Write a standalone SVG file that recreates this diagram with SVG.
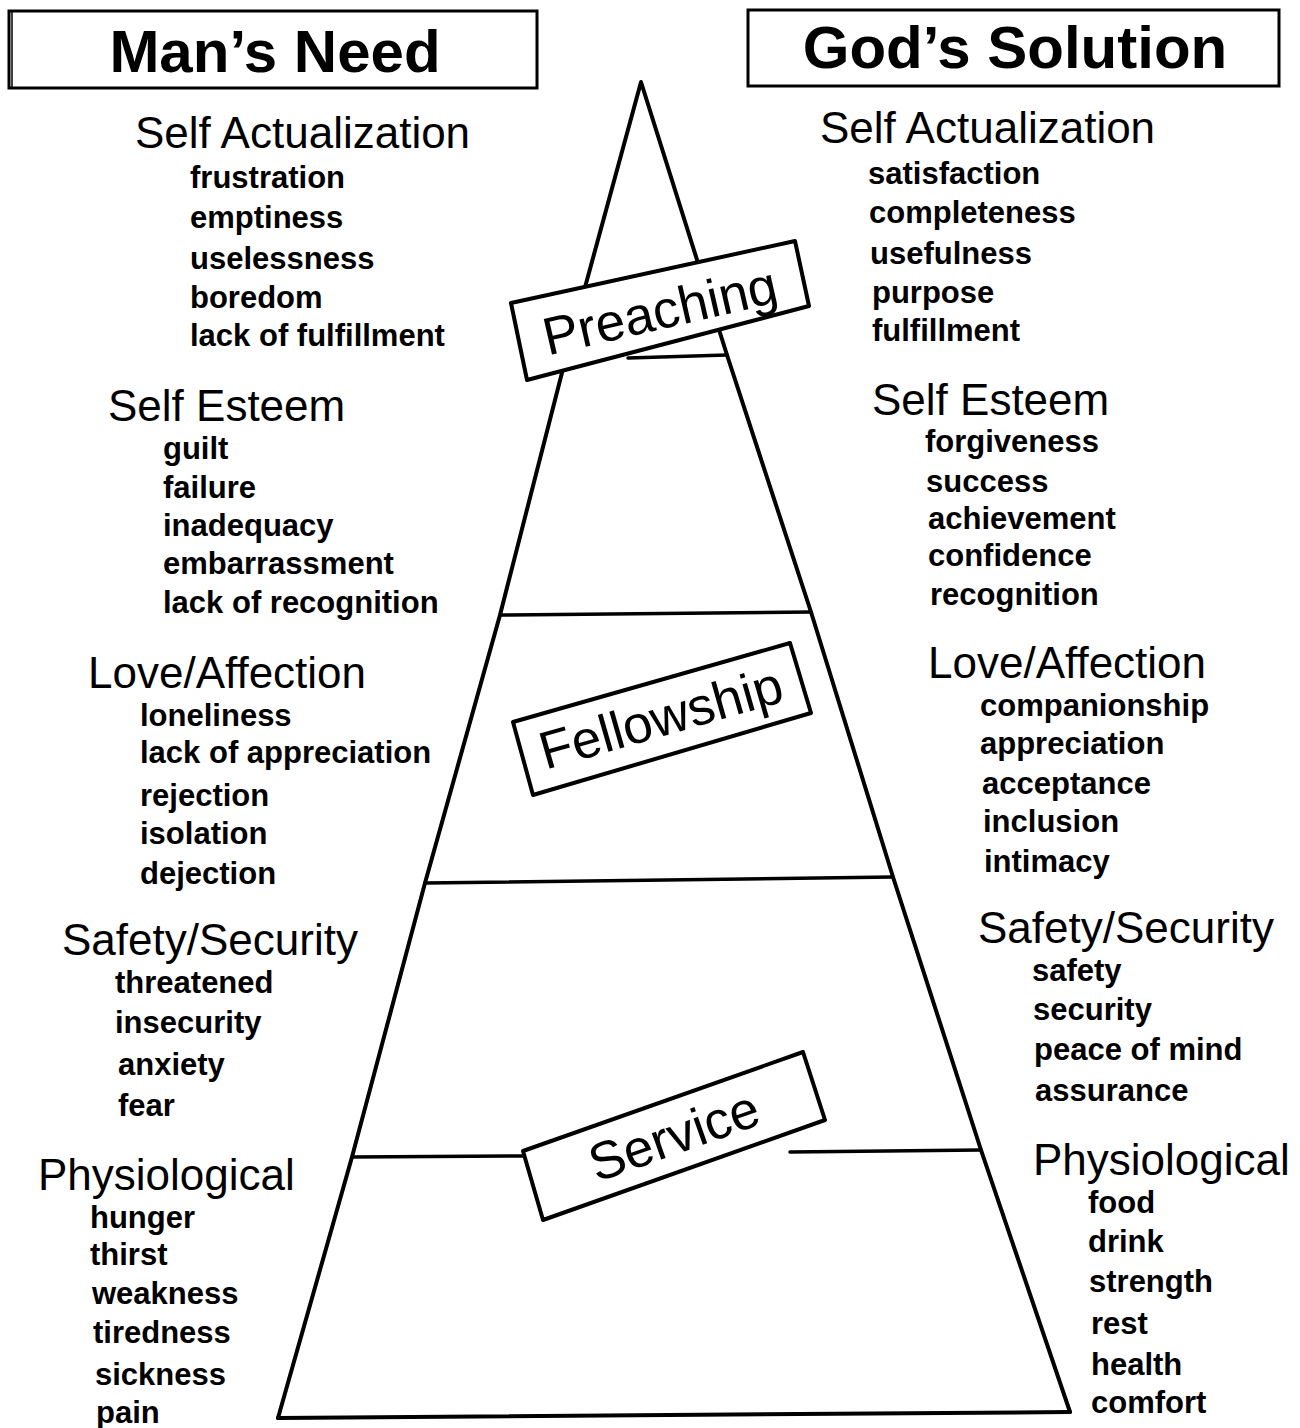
<svg xmlns="http://www.w3.org/2000/svg" width="1300" height="1428" viewBox="0 0 1300 1428">
<style>
text{font-family:"Liberation Sans",Arial,Helvetica,sans-serif;fill:#000}
.t{font-size:60px;font-weight:bold;text-anchor:middle}
.h{font-size:44px}
.i{font-size:31px;font-weight:bold}
.tier{font-size:53px;text-anchor:middle}
.ln{stroke:#000;stroke-width:4;fill:none;stroke-linejoin:round;stroke-linecap:round}
.tl{stroke:#000;stroke-width:3.5;fill:none;stroke-linecap:round}
.box{fill:#fff;stroke:#000;stroke-width:4;stroke-linejoin:round}
.hb{fill:#fff;stroke:#000;stroke-width:3}
</style>
<rect width="1300" height="1428" fill="#fff"/>

<g id="pyramid">
<polyline class="ln" points="278,1418 352,1157 425,883 500,615 566,357 641,82 727,355 811,612 893,877 981,1150 1070,1412"/>
<line class="ln" x1="278" y1="1418" x2="1070" y2="1412"/>
</g>

<g id="tier-lines">
<line class="tl" x1="628" y1="358" x2="727" y2="355"/>
<line class="tl" x1="500" y1="615" x2="811" y2="612"/>
<line class="tl" x1="425" y1="883" x2="893" y2="877"/>
<line class="tl" x1="352" y1="1157" x2="523" y2="1156"/>
<line class="tl" x1="790" y1="1152" x2="981" y2="1150"/>
</g>

<g id="header-need">
<rect class="hb" x="9" y="11" width="528" height="77"/>
<line x1="12" y1="11" x2="12" y2="88" stroke="#000" stroke-width="1.5"/>
<text class="t" x="275" y="72">Man’s Need</text>
</g>

<g id="header-solution">
<rect class="hb" x="748" y="10" width="531" height="76"/>
<text class="t" x="1015" y="68">God’s Solution</text>
</g>

<g id="tier-preaching">
<polygon class="box" points="511,303 795,241 809,306 527,380"/>
<text class="tier" transform="translate(660,311) rotate(-13)" x="0" y="18">Preaching</text>
</g>

<g id="tier-fellowship">
<polygon class="box" points="513,722 790,643 811,713 533,795"/>
<text class="tier" transform="translate(661,718) rotate(-16)" x="0" y="18">Fellowship</text>
</g>

<g id="tier-service">
<polygon class="box" points="523,1151 803,1052 825,1120 543,1220"/>
<text class="tier" transform="translate(674,1136) rotate(-19.5)" x="0" y="18">Service</text>
</g>

<g id="need-self-actualization">
<text class="h" x="135" y="148">Self Actualization</text>
<text class="i" x="190" y="188">frustration</text>
<text class="i" x="190" y="228">emptiness</text>
<text class="i" x="190" y="269">uselessness</text>
<text class="i" x="190" y="308">boredom</text>
<text class="i" x="190" y="346">lack of fulfillment</text>
</g>

<g id="need-self-esteem">
<text class="h" x="108" y="421">Self Esteem</text>
<text class="i" x="163" y="459">guilt</text>
<text class="i" x="163" y="498">failure</text>
<text class="i" x="163" y="536">inadequacy</text>
<text class="i" x="163" y="574">embarrassment</text>
<text class="i" x="163" y="613">lack of recognition</text>
</g>

<g id="need-love">
<text class="h" x="88" y="688">Love/Affection</text>
<text class="i" x="140" y="726">loneliness</text>
<text class="i" x="140" y="763">lack of appreciation</text>
<text class="i" x="140" y="806">rejection</text>
<text class="i" x="140" y="844">isolation</text>
<text class="i" x="140" y="884">dejection</text>
</g>

<g id="need-safety">
<text class="h" x="62" y="955">Safety/Security</text>
<text class="i" x="115" y="993">threatened</text>
<text class="i" x="115" y="1033">insecurity</text>
<text class="i" x="118" y="1075">anxiety</text>
<text class="i" x="118" y="1116">fear</text>
</g>

<g id="need-physiological">
<text class="h" x="38" y="1190">Physiological</text>
<text class="i" x="90" y="1228">hunger</text>
<text class="i" x="90" y="1265">thirst</text>
<text class="i" x="92" y="1304">weakness</text>
<text class="i" x="93" y="1343">tiredness</text>
<text class="i" x="95" y="1385">sickness</text>
<text class="i" x="96" y="1423">pain</text>
</g>

<g id="solution-self-actualization">
<text class="h" x="820" y="143">Self Actualization</text>
<text class="i" x="868" y="184">satisfaction</text>
<text class="i" x="869" y="223">completeness</text>
<text class="i" x="870" y="264">usefulness</text>
<text class="i" x="872" y="303">purpose</text>
<text class="i" x="872" y="341">fulfillment</text>
</g>

<g id="solution-self-esteem">
<text class="h" x="872" y="415">Self Esteem</text>
<text class="i" x="925" y="452">forgiveness</text>
<text class="i" x="926" y="492">success</text>
<text class="i" x="928" y="529">achievement</text>
<text class="i" x="928" y="566">confidence</text>
<text class="i" x="930" y="605">recognition</text>
</g>

<g id="solution-love">
<text class="h" x="928" y="678">Love/Affection</text>
<text class="i" x="980" y="716">companionship</text>
<text class="i" x="980" y="754">appreciation</text>
<text class="i" x="982" y="794">acceptance</text>
<text class="i" x="983" y="832">inclusion</text>
<text class="i" x="984" y="872">intimacy</text>
</g>

<g id="solution-safety">
<text class="h" x="978" y="943">Safety/Security</text>
<text class="i" x="1032" y="981">safety</text>
<text class="i" x="1033" y="1020">security</text>
<text class="i" x="1034" y="1060">peace of mind</text>
<text class="i" x="1035" y="1101">assurance</text>
</g>

<g id="solution-physiological">
<text class="h" x="1033" y="1175">Physiological</text>
<text class="i" x="1088" y="1213">food</text>
<text class="i" x="1088" y="1252">drink</text>
<text class="i" x="1089" y="1292">strength</text>
<text class="i" x="1091" y="1334">rest</text>
<text class="i" x="1091" y="1375">health</text>
<text class="i" x="1091" y="1413">comfort</text>
</g>
</svg>
